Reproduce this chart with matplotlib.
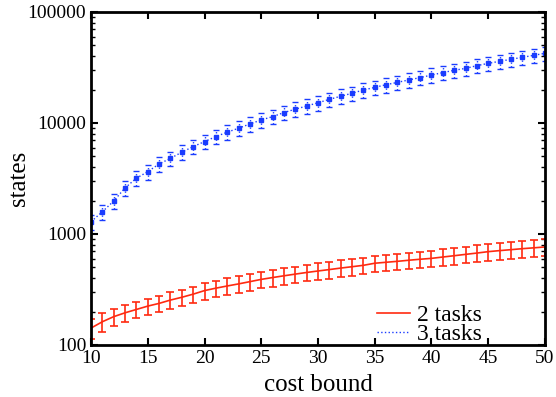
import matplotlib
matplotlib.use("Agg")
import matplotlib.pyplot as plt
import numpy as np

plt.rcParams['font.family'] = ['Liberation Serif', 'DejaVu Serif']

# --- data ---
cost = list(range(10, 51))

tasks2 = [142, 162, 180, 195, 209, 224, 237, 254, 269, 287,
          309, 325, 340, 355, 372, 390, 405, 420, 435, 450,
          464, 478, 493, 507, 522, 545, 556, 567, 580, 592,
          603, 620, 637, 655, 673, 693, 708, 722, 737, 750,
          764]
tasks2_err = [v * 0.2 for v in tasks2[:2]] + [v * 0.17 for v in tasks2[2:]]

tasks3 = [1290, 1585, 1980, 2600, 3180, 3640, 4270, 4800, 5450, 6120,
          6790, 7530, 8260, 8960, 9790, 10640, 11400, 12400, 13300, 14200,
          15200, 16300, 17400, 18500, 19800, 20900, 22100, 23200, 24400, 25600,
          27000, 28400, 29800, 31000, 32800, 34400, 35900, 37400, 39000, 40600,
          42400]
tasks3_err = [v * 0.15 for v in tasks3]

red = '#ff2a10'
blue = '#1a3cff'

# --- plot ---
fig = plt.figure(figsize=(5.56, 3.97), dpi=100)
ax = fig.add_axes([0.1637, 0.131, 0.8165, 0.839])

ax.errorbar(cost, tasks2, yerr=tasks2_err, color=red, lw=1.2, elinewidth=1.2,
            capsize=3, capthick=1.2, ecolor=red, label='2 tasks')
eb = ax.errorbar(cost, tasks3, yerr=tasks3_err, color=blue, lw=1.0, ls=':',
                 marker='s', ms=3.5, mec=blue, mfc=blue, elinewidth=1.0,
                 capsize=2.5, capthick=1.0, ecolor=blue, label='3 tasks')
for c in eb[2]:
    c.set_linestyle(':')

ax.set_yscale('log')
ax.set_xlim(10, 50)
ax.set_ylim(100, 100000)
ax.set_xticks(range(10, 51, 5))
ax.set_yticks([100, 1000, 10000, 100000])
ax.set_yticklabels(['100', '1000', '10000', '100000'])
ax.tick_params(which='both', direction='in', top=True, right=True, labelsize=14)
ax.tick_params(which='major', length=5, width=1.5)
ax.tick_params(which='minor', length=3, width=1)
for s in ax.spines.values():
    s.set_linewidth(2)

ax.set_xlabel('cost bound', fontsize=18, labelpad=5)
ax.set_ylabel('states', fontsize=18)
ax.yaxis.set_label_coords(-0.135, 0.5)

l = ['2 tasks', '3 tasks']
h = [plt.Line2D([], [], color=red, lw=1.2), plt.Line2D([], [], color=blue, lw=1.0, ls=':')]
ax.legend(h, l, loc='lower right', frameon=False, fontsize=17, handlelength=1.4,
          labelspacing=-0.1, borderaxespad=0.0, borderpad=0.0,
          bbox_to_anchor=(0.862, 0.0), handletextpad=0.3)

fig.savefig('out.png', dpi=100)
